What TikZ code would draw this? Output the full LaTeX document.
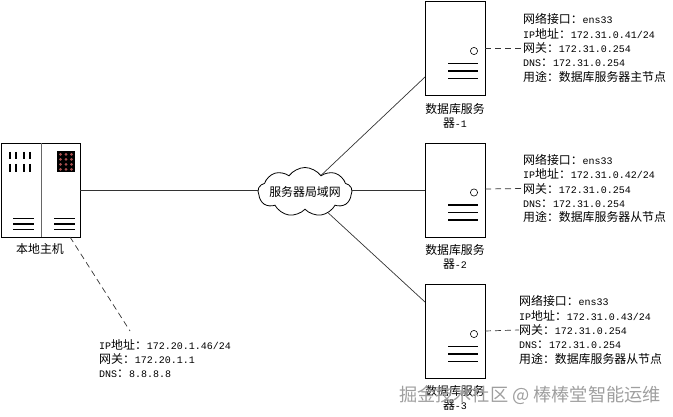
\documentclass[tikz,border=0pt]{standalone}
\usepackage{fontspec}
\usepackage{tikz}
\usetikzlibrary{shapes.symbols}
\setmainfont{Liberation Mono}
\newfontfamily\cjk{Noto Sans CJK SC}
\newcommand{\zh}[1]{{\cjk\fontsize{11.9}{14}\selectfont #1}}
\definecolor{ln}{gray}{0.2}
\definecolor{dot}{RGB}{170,80,80}
\tikzset{
  x=1pt,y=-1pt,
  box/.style={draw=black,line width=0.9pt,fill=white,inner sep=0pt},
  hostbox/.style={box,minimum width=79pt,minimum height=94pt},
  srvbox/.style={box,minimum width=60pt,minimum height=94pt},
  link/.style={draw=ln,line width=0.7pt},
  dashlink/.style={draw=ln,line width=0.7pt,dash pattern=on 6pt off 4pt},
  bar/.style={draw=black,line width=1.5pt},
  captxt/.style={inner sep=0pt,align=center,font=\fontsize{10}{14}\selectfont},
  info/.style={inner sep=0pt,align=left,anchor=west,font=\fontsize{10}{14.4}\selectfont},
  lan/.style={cloud,cloud puffs=9,cloud puff arc=110,aspect=2.2,draw=black,line width=0.8pt,fill=white,inner sep=0pt,minimum width=94pt,minimum height=49pt}
}
\newcommand{\serverdetail}[1]{%
  \draw[draw=black,line width=0.6pt] (474,#1+51) circle (3.6);
  \draw[bar] (448,#1+63.5) -- (478,#1+63.5);
  \draw[bar] (448,#1+71) -- (478,#1+71);
  \draw[bar] (448,#1+78.5) -- (478,#1+78.5);
}
\begin{document}
\begin{tikzpicture}
\useasboundingbox (0,0) rectangle (673,417);
\node[hostbox] (host) at (40.5,190) {};
\node[srvbox] (s1) at (455,48) {};
\node[srvbox] (s2) at (455,190) {};
\node[srvbox] (s3) at (455,331) {};
\node[lan] (net) at (305,192) {};
\node[inner sep=0pt] (netlabel) at (net.center) {\zh{服务器局域网}};
\draw[link] (host.east) -- (net.west |- host.east);
\coordinate (s1in) at (425,77);
\coordinate (s3in) at (425,302);
\draw[link] (net.46) -- (s1in);
\draw[link] (net.east |- s2.west) -- (s2.west);
\draw[link] (net.-42) -- (s3in);
\draw[line width=1pt,draw=black!60] (41,143) -- (41,237);
\foreach \x in {10.2,15.7,24.3,30}{
  \draw[line width=1.7pt] (\x,152) -- (\x,159.5);
  \draw[line width=1.7pt] (\x,164) -- (\x,172);
}
\fill[black] (57,151.5) rectangle (75,172);
\foreach \i in {0,1,2}\foreach \j in {0,1,2,3}{
  \fill[dot] (60.5+5.5*\i,154.5+5*\j) circle (1.5);
}
\foreach \y in {218.5,224,229.5}{
  \draw[bar] (13,\y) -- (34,\y);
  \draw[bar] (54,\y) -- (75,\y);
}
\serverdetail{0}
\serverdetail{141.5}
\serverdetail{283}
\node[captxt] (hostcap) at (40,249) {\zh{本地主机}};
\node[captxt] (c1) at (455,115.5) {\zh{数据库服务}\\\zh{器}-1};
\node[captxt] (c2) at (455,256.5) {\zh{数据库服务}\\\zh{器}-2};
\node[captxt] (c3) at (455,397.5) {\zh{数据库服务}\\\zh{器}-3};
\node[info] (i1) at (523,48) {\zh{网络接口：}ens33\\IP\zh{地址：}172.31.0.41/24\\\zh{网关：}172.31.0.254\\DNS\zh{：}172.31.0.254\\\zh{用途：数据库服务器主节点}};
\node[info] (i2) at (523,188.5) {\zh{网络接口：}ens33\\IP\zh{地址：}172.31.0.42/24\\\zh{网关：}172.31.0.254\\DNS\zh{：}172.31.0.254\\\zh{用途：数据库服务器从节点}};
\node[info] (i3) at (519,330) {\zh{网络接口：}ens33\\IP\zh{地址：}172.31.0.43/24\\\zh{网关：}172.31.0.254\\DNS\zh{：}172.31.0.254\\\zh{用途：数据库服务器从节点}};
\node[info] (i0) at (99,358.5) {IP\zh{地址：}172.20.1.46/24\\\zh{网关：}172.20.1.1\\DNS\zh{：}8.8.8.8};
\draw[dashlink] (485,48) -- (i1.west);
\draw[dashlink] (485,189) -- (i2.west);
\draw[dashlink] (485,331) -- (i3.west);
\coordinate (hostfoot) at (70,237);
\coordinate (i0top) at (130,331);
\draw[dashlink] (hostfoot) -- (i0top);
\node[inner sep=0pt,text=gray!75] (wm) at (530,395) {\cjk\fontsize{18.2}{20}\selectfont 掘金技术社区 @ 棒棒堂智能运维};
\end{tikzpicture}
\end{document}
